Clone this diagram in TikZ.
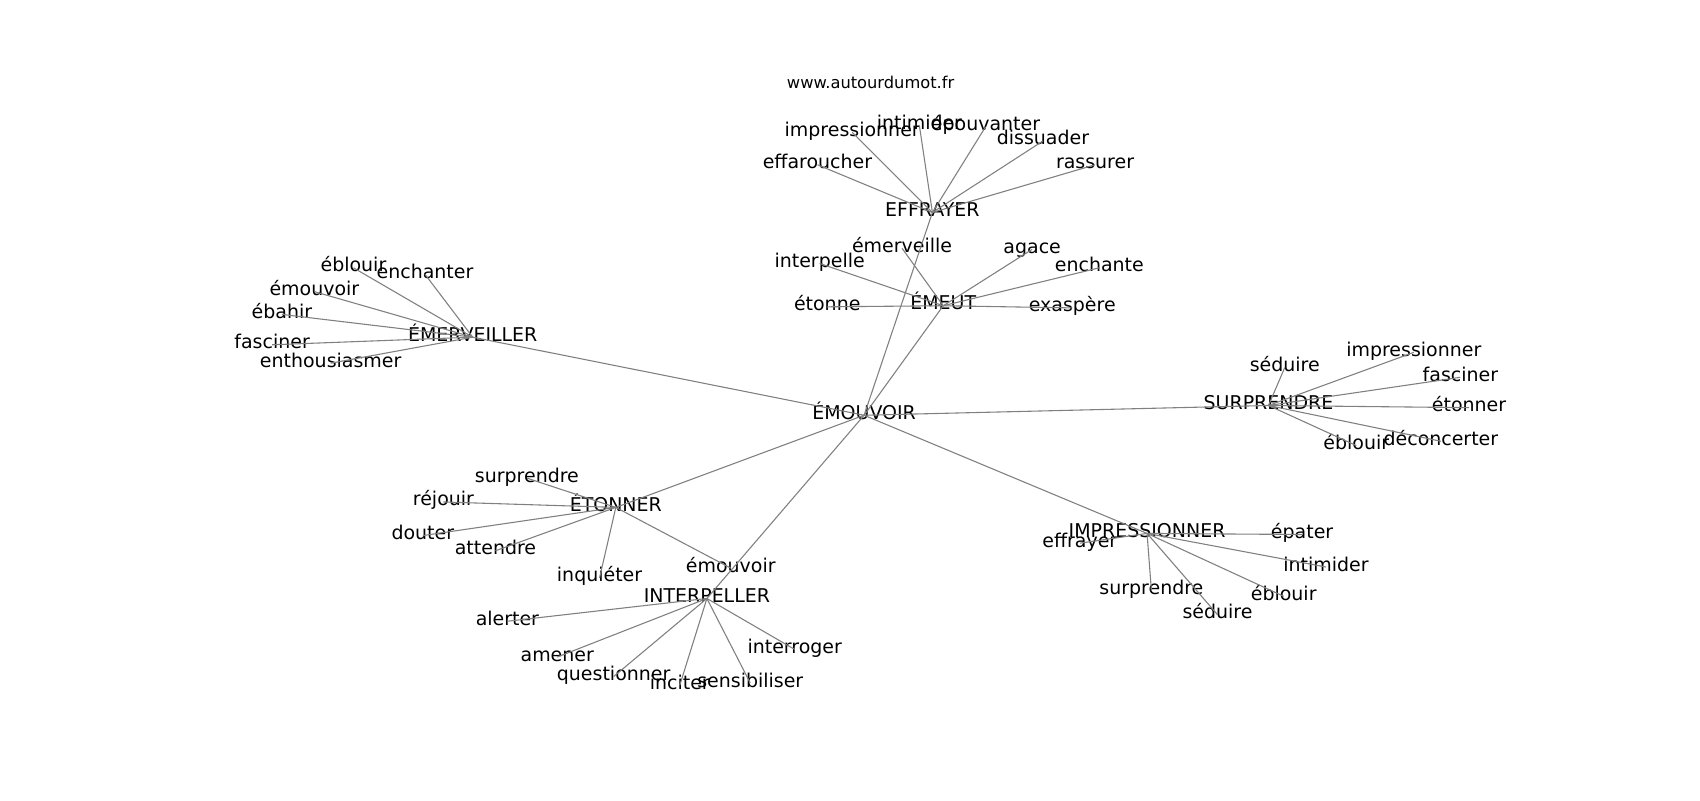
\documentclass[tikz,border=0pt]{standalone}
\usepackage{fontspec}
\setmainfont{DejaVu Sans}
\newfontfamily\lblfamily{DejaVu Sans}
\begin{document}
\begin{tikzpicture}[x=1pt,y=-1pt,
  lbl/.style={inner sep=0pt, text height=0.76em, text depth=0.02em, font=\lblfamily\fontsize{17.5}{21}\selectfont},
  wmark/.style={inner sep=0pt, font=\lblfamily\fontsize{15}{18}\selectfont},
  link/.style={draw=gray, line width=1pt}]
\useasboundingbox (0,0) rectangle (1568,738);
\node[wmark] (wm) at (803,76) {www.autourdumot.fr};
% hub
\node[lbl] (hub) at (797,383) {ÉMOUVOIR};
% EFFRAYER
\node[lbl] (eff) at (860,196) {EFFRAYER};
\node[lbl] (e1) at (786,122) {impressionner};
\node[lbl] (e2) at (848,116) {intimider};
\node[lbl] (e3) at (909,117) {épouvanter};
\node[lbl] (e4) at (962,130) {dissuader};
\node[lbl] (e5) at (1010,152) {rassurer};
\node[lbl] (e6) at (754,152) {effaroucher};
% EMEUT
\node[lbl] (emeut) at (870,282) {ÉMEUT};
\node[lbl] (m1) at (832,229) {émerveille};
\node[lbl] (m2) at (756,243) {interpelle};
\node[lbl] (m3) at (763,283) {étonne};
\node[lbl] (m4) at (952,230) {agace};
\node[lbl] (m5) at (1014,247) {enchante};
\node[lbl] (m6) at (989,284) {exaspère};
% EMERVEILLER
\node[lbl] (emerv) at (436,311) {ÉMERVEILLER};
\node[lbl] (v1) at (326,247) {éblouir};
\node[lbl] (v2) at (392,253) {enchanter};
\node[lbl] (v3) at (290,269) {émouvoir};
\node[lbl] (v4) at (260,290) {ébahir};
\node[lbl] (v5) at (251,318) {fasciner};
\node[lbl] (v6) at (305,335) {enthousiasmer};
% SURPRENDRE
\node[lbl] (surp) at (1170,374) {SURPRENDRE};
\node[lbl] (s1) at (1185,339) {séduire};
\node[lbl] (s2) at (1304,325) {impressionner};
\node[lbl] (s3) at (1347,348) {fasciner};
\node[lbl] (s4) at (1355,376) {étonner};
\node[lbl] (s5) at (1251,411) {éblouir};
\node[lbl] (s6) at (1329,407) {déconcerter};
% ETONNER
\node[lbl] (eton) at (568,468) {ÉTONNER};
\node[lbl] (t1) at (486,441) {surprendre};
\node[lbl] (t2) at (409,463) {réjouir};
\node[lbl] (t3) at (390,494) {douter};
\node[lbl] (t4) at (457,508) {attendre};
\node[lbl] (t5) at (553,533) {inquiéter};
\node[lbl] (t6) at (674,524) {émouvoir};
% INTERPELLER
\node[lbl] (interp) at (652,552) {INTERPELLER};
\node[lbl] (i1) at (468,573) {alerter};
\node[lbl] (i2) at (514,606) {amener};
\node[lbl] (i3) at (566,624) {questionner};
\node[lbl] (i4) at (627,632) {inciter};
\node[lbl] (i5) at (692,630) {sensibiliser};
\node[lbl] (i6) at (733,599) {interroger};
% IMPRESSIONNER
\node[lbl] (impr) at (1058,492) {IMPRESSIONNER};
\node[lbl] (p1) at (996,501) {effrayer};
\node[lbl] (p2) at (1201,493) {épater};
\node[lbl] (p3) at (1223,523) {intimider};
\node[lbl] (p4) at (1184,550) {éblouir};
\node[lbl] (p5) at (1062,545) {surprendre};
\node[lbl] (p6) at (1123,567) {séduire};
% edges
\foreach \a/\b in {hub/eff,hub/emeut,hub/emerv,hub/surp,hub/eton,hub/interp,hub/impr,
  eff/e1,eff/e2,eff/e3,eff/e4,eff/e5,eff/e6,
  emeut/m1,emeut/m2,emeut/m3,emeut/m4,emeut/m5,emeut/m6,
  emerv/v1,emerv/v2,emerv/v3,emerv/v4,emerv/v5,emerv/v6,
  surp/s1,surp/s2,surp/s3,surp/s4,surp/s5,surp/s6,
  eton/t1,eton/t2,eton/t3,eton/t4,eton/t5,eton/t6,
  interp/i1,interp/i2,interp/i3,interp/i4,interp/i5,interp/i6,
  impr/p1,impr/p2,impr/p3,impr/p4,impr/p5,impr/p6}
  \draw[link] (\a.center) -- (\b.center);
\end{tikzpicture}
\end{document}
